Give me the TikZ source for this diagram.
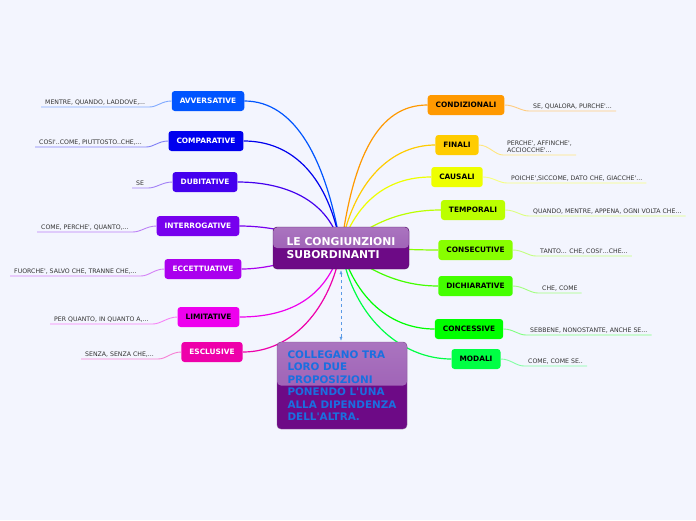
\documentclass[tikz,border=0pt]{standalone}
\usepackage{fontspec}
\setmainfont{DejaVu Sans}[Ligatures=TeXOff]
\usetikzlibrary{arrows.meta}
\definecolor{pageBg}{HTML}{F3F5FE}
\definecolor{rootTop}{HTML}{9B5CB4}
\definecolor{rootLow}{HTML}{6D0A86}
\definecolor{rootEdge}{HTML}{4E1060}
\definecolor{noteInk}{HTML}{1A6FE0}
\definecolor{linkBlue}{HTML}{5A9AE6}
\definecolor{leafInk}{HTML}{333333}
\definecolor{avvCol}{HTML}{0055FF}
\definecolor{cmpCol}{HTML}{0000EE}
\definecolor{dubCol}{HTML}{4400EE}
\definecolor{intrCol}{HTML}{7700EE}
\definecolor{eccCol}{HTML}{AA00EE}
\definecolor{limCol}{HTML}{EE00EE}
\definecolor{escCol}{HTML}{EE00AA}
\definecolor{condCol}{HTML}{FF9900}
\definecolor{finCol}{HTML}{FFCC00}
\definecolor{causCol}{HTML}{EEFF00}
\definecolor{tempCol}{HTML}{BBFF00}
\definecolor{consCol}{HTML}{88FF00}
\definecolor{dichCol}{HTML}{44FF00}
\definecolor{concCol}{HTML}{00FF00}
\definecolor{modCol}{HTML}{00FF44}
\pgfdeclarelayer{paper}
\pgfdeclarelayer{links}
\pgfsetlayers{paper,links,main}

\begin{document}
\begin{tikzpicture}[x=1pt,y=-1pt,
 topic/.style={rectangle,rounded corners=3pt,fill=#1,minimum height=20pt,inner xsep=8pt,
 font=\fontsize{7.4}{8}\selectfont\bfseries},
 dark/.style={text=white},
 leaf/.style={anchor=south west,inner xsep=4pt,inner ysep=2pt,align=left,
 font=\fontsize{6.2}{7.4}\selectfont,text=leafInk},
 glossy/.style={rectangle,rounded corners=4pt,draw=rootEdge,fill=rootLow,align=left,
 path picture={\shade[top color=rootTop!85!white,bottom color=rootTop!90!rootLow]
 (path picture bounding box.north west) rectangle (path picture bounding box.east);}},
 branch/.style={line width=1.2pt,draw=#1},
 twig/.style={line width=0.9pt,draw=#1!50!white},
 linkArrow/.style={<->,dashed,linkBlue,shorten >=1pt,shorten <=1pt,>={Latex[length=4pt,width=3pt]}}]
\useasboundingbox (0,0) rectangle (696,520);
\begin{pgfonlayer}{paper}
\fill[pageBg] (0,0) rectangle (696,520);
\end{pgfonlayer}

% central topic and note
\node[glossy,minimum width=136pt,minimum height=42pt,text=white,
 font=\fontsize{10.8}{13}\selectfont\bfseries] (root) at (341,248) {LE CONGIUNZIONI\\SUBORDINANTI};
\node[glossy,draw=rootEdge!70,minimum width=130pt,minimum height=87pt,text=noteInk,
 font=\fontsize{10.4}{12.5}\selectfont\bfseries] (note) at (342,385.5)
 {COLLEGANO TRA\\LORO DUE\\PROPOSIZIONI\\PONENDO L'UNA\\ALLA DIPENDENZA\\DELL'ALTRA.};
\draw[linkArrow] (root.south) -- (root.south |- note.north);

% left topics
\node[topic=avvCol,dark] (avv) at (208,101) {AVVERSATIVE};
\node[topic=cmpCol,dark] (cmp) at (206,141) {COMPARATIVE};
\node[topic=dubCol,dark] (dub) at (205,182) {DUBITATIVE};
\node[topic=intrCol,dark] (intr) at (198,226) {INTERROGATIVE};
\node[topic=eccCol,dark] (ecc) at (203,269) {ECCETTUATIVE};
\node[topic=limCol] (lim) at (208.5,317) {LIMITATIVE};
\node[topic=escCol,dark] (esc) at (212,352) {ESCLUSIVE};

\node[leaf] (avvL) at (41,107) {MENTRE, QUANDO, LADDOVE,...};
\node[leaf] (cmpL) at (35,147) {COSI'..COME, PIUTTOSTO..CHE,...};
\node[leaf] (dubL) at (132,188) {SE};
\node[leaf] (intrL) at (37,232) {COME, PERCHE', QUANTO,...};
\node[leaf] (eccL) at (10,276) {FUORCHE', SALVO CHE, TRANNE CHE,...};
\node[leaf] (limL) at (50,324) {PER QUANTO, IN QUANTO A,...};
\node[leaf] (escL) at (81,359) {SENZA, SENZA CHE,...};

% right topics
\node[topic=condCol] (cond) at (466,105) {CONDIZIONALI};
\node[topic=finCol] (fin) at (457,145) {FINALI};
\node[topic=causCol] (caus) at (457,177) {CAUSALI};
\node[topic=tempCol] (temp) at (473,210) {TEMPORALI};
\node[topic=consCol] (cons) at (475.5,250) {CONSECUTIVE};
\node[topic=dichCol] (dich) at (475.5,286) {DICHIARATIVE};
\node[topic=concCol] (conc) at (469,329) {CONCESSIVE};
\node[topic=modCol] (mod) at (476,359) {MODALI};

\node[leaf] (condL) at (529,111) {SE, QUALORA, PURCHE'...};
\node[leaf] (finL) at (503,155) {PERCHE', AFFINCHE',\\ACCIOCCHE'...};
\node[leaf] (causL) at (507,183) {POICHE',SICCOME, DATO CHE, GIACCHE'...};
\node[leaf] (tempL) at (529,216) {QUANDO, MENTRE, APPENA, OGNI VOLTA CHE...};
\node[leaf] (consL) at (536,256) {TANTO... CHE, COSI'...CHE...};
\node[leaf] (dichL) at (538,293) {CHE, COME};
\node[leaf] (concL) at (526,335) {SEBBENE, NONOSTANTE, ANCHE SE...};
\node[leaf] (modL) at (524,366) {COME, COME SE..};

\begin{pgfonlayer}{links}
\draw[branch=avvCol] (root.center) .. controls +(-15,-90) and +(50,0) .. (avv.east);
\draw[branch=cmpCol] (root.center) .. controls +(-12,-70) and +(50,0) .. (cmp.east);
\draw[branch=dubCol] (root.center) .. controls +(-12,-50) and +(45,0) .. (dub.east);
\draw[branch=intrCol] (root.center) .. controls +(-40,-15) and +(30,0) .. (intr.east);
\draw[branch=eccCol] (root.center) .. controls +(-40,10) and +(30,0) .. (ecc.east);
\draw[branch=limCol] (root.center) .. controls +(-15,50) and +(50,0) .. (lim.east);
\draw[branch=escCol] (root.center) .. controls +(-10,60) and +(50,0) .. (esc.east);
\draw[branch=condCol] (root.center) .. controls +(12,-90) and +(-50,0) .. (cond.west);
\draw[branch=finCol] (root.center) .. controls +(12,-65) and +(-45,0) .. (fin.west);
\draw[branch=causCol] (root.center) .. controls +(15,-45) and +(-45,0) .. (caus.west);
\draw[branch=tempCol] (root.center) .. controls +(30,-25) and +(-40,0) .. (temp.west);
\draw[branch=consCol] (root.center) .. controls +(40,0) and +(-30,0) .. (cons.west);
\draw[branch=dichCol] (root.center) .. controls +(30,25) and +(-35,0) .. (dich.west);
\draw[branch=concCol] (root.center) .. controls +(15,50) and +(-45,0) .. (conc.west);
\draw[branch=modCol] (root.center) .. controls +(12,70) and +(-50,0) .. (mod.west);
\end{pgfonlayer}

% leaf connectors
\draw[twig=avvCol] (avv.west) .. controls +(-10,0) and +(8,0) .. (avvL.south east) -- (avvL.south west);
\draw[twig=cmpCol] (cmp.west) .. controls +(-10,0) and +(8,0) .. (cmpL.south east) -- (cmpL.south west);
\draw[twig=dubCol] (dub.west) .. controls +(-10,0) and +(8,0) .. (dubL.south east) -- (dubL.south west);
\draw[twig=intrCol] (intr.west) .. controls +(-10,0) and +(8,0) .. (intrL.south east) -- (intrL.south west);
\draw[twig=eccCol] (ecc.west) .. controls +(-10,0) and +(8,0) .. (eccL.south east) -- (eccL.south west);
\draw[twig=limCol] (lim.west) .. controls +(-10,0) and +(8,0) .. (limL.south east) -- (limL.south west);
\draw[twig=escCol] (esc.west) .. controls +(-10,0) and +(8,0) .. (escL.south east) -- (escL.south west);
\draw[twig=condCol] (cond.east) .. controls +(10,0) and +(-8,0) .. (condL.south west) -- (condL.south east);
\draw[twig=finCol] (fin.east) .. controls +(10,0) and +(-8,0) .. (finL.south west) -- (finL.south east);
\draw[twig=causCol] (caus.east) .. controls +(10,0) and +(-8,0) .. (causL.south west) -- (causL.south east);
\draw[twig=tempCol] (temp.east) .. controls +(10,0) and +(-8,0) .. (tempL.south west) -- (tempL.south east);
\draw[twig=consCol] (cons.east) .. controls +(10,0) and +(-8,0) .. (consL.south west) -- (consL.south east);
\draw[twig=dichCol] (dich.east) .. controls +(10,0) and +(-8,0) .. (dichL.south west) -- (dichL.south east);
\draw[twig=concCol] (conc.east) .. controls +(10,0) and +(-8,0) .. (concL.south west) -- (concL.south east);
\draw[twig=modCol] (mod.east) .. controls +(10,0) and +(-8,0) .. (modL.south west) -- (modL.south east);
\end{tikzpicture}
\end{document}
